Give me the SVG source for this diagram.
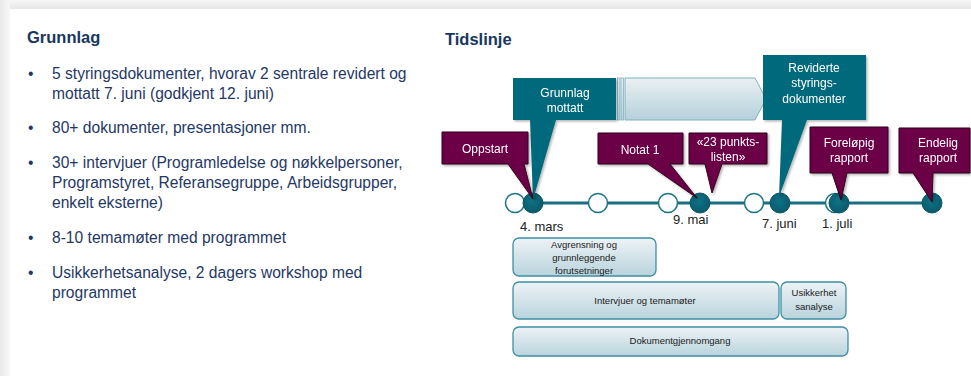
<svg xmlns="http://www.w3.org/2000/svg" width="971" height="376" viewBox="0 0 971 376">
<defs>
<linearGradient id="topg" x1="0" y1="0" x2="0" y2="1"><stop offset="0" stop-color="#f7f7f7"/><stop offset="1" stop-color="#e6e6e6"/></linearGradient>
<linearGradient id="leftg" x1="0" y1="0" x2="1" y2="0"><stop offset="0" stop-color="#e9e9e9"/><stop offset="1" stop-color="#f8f8f8"/></linearGradient>
<linearGradient id="barg" x1="0" y1="0" x2="0" y2="1"><stop offset="0" stop-color="#edf3f6"/><stop offset="1" stop-color="#b9d3dc"/></linearGradient>
<linearGradient id="arrg" x1="0" y1="0" x2="0" y2="1"><stop offset="0" stop-color="#eaf1f4"/><stop offset="1" stop-color="#b5d0da"/></linearGradient>
<radialGradient id="dotg" cx="0.45" cy="0.4" r="0.6"><stop offset="0" stop-color="#0f7286"/><stop offset="1" stop-color="#0a5a6b"/></radialGradient>
<filter id="sh" x="-10%" y="-10%" width="130%" height="130%"><feDropShadow dx="1.5" dy="1.5" stdDeviation="1.2" flood-color="#000" flood-opacity="0.3"/></filter>
</defs>
<style>
.bt{font-family:"Liberation Sans",Arial,sans-serif;font-size:15.6px;fill:#1f3864}
.h{font-family:"Liberation Sans",Arial,sans-serif;font-size:16.5px;font-weight:bold;fill:#17375e}
.cw{font-family:"Liberation Sans",Arial,sans-serif;font-size:12px;fill:#ffffff;text-anchor:middle}
.dt{font-family:"Liberation Sans",Arial,sans-serif;font-size:13px;fill:#222222}
.bx{font-family:"Liberation Sans",Arial,sans-serif;font-size:9.5px;fill:#1a1a1a;text-anchor:middle}
.pur{fill:#6c0046;stroke:#2b0a1c;stroke-width:1}
.tea{fill:#006a7b}
.bar{fill:url(#barg);stroke:#3e8fa2;stroke-width:1.3}
.wc{fill:#ffffff;stroke:#1a7385;stroke-width:1.5}
.tc{fill:url(#dotg);stroke:#0a5566;stroke-width:1}
</style>
<rect width="971" height="376" fill="#ffffff"/>
<rect x="0" y="0" width="971" height="9" fill="url(#topg)"/>
<rect x="0" y="0" width="10" height="376" fill="url(#leftg)"/>

<g id="left-panel">
<text class="h" x="27" y="43">Grunnlag</text>
<g class="bt">
<text x="28" y="79">•</text><text x="52" y="79">5 styringsdokumenter, hvorav 2 sentrale revidert og</text>
<text x="52" y="99">mottatt 7. juni (godkjent 12. juni)</text>
<text x="28" y="133">•</text><text x="52" y="133">80+ dokumenter, presentasjoner mm.</text>
<text x="28" y="168">•</text><text x="52" y="168">30+ intervjuer (Programledelse og nøkkelpersoner,</text>
<text x="52" y="188">Programstyret, Referansegruppe, Arbeidsgrupper,</text>
<text x="52" y="208">enkelt eksterne)</text>
<text x="28" y="243">•</text><text x="52" y="243">8-10 temamøter med programmet</text>
<text x="28" y="278">•</text><text x="52" y="278">Usikkerhetsanalyse, 2 dagers workshop med</text>
<text x="52" y="298">programmet</text>
</g>
</g>

<text class="h" x="445" y="45">Tidslinje</text>

<g id="connectors">
<line x1="515" y1="203" x2="932" y2="203" stroke="#1a6f80" stroke-width="3"/>
</g>

<g id="timeline-dots">
<circle class="wc" cx="515" cy="203" r="9.5"/>
<circle class="tc" cx="533" cy="203" r="10"/>
<circle class="wc" cx="598" cy="203" r="9.5"/>
<circle class="wc" cx="668" cy="203" r="9.5"/>
<circle class="tc" cx="700" cy="203" r="10"/>
<circle class="wc" cx="754" cy="203" r="9.5"/>
<circle class="tc" cx="780" cy="203" r="10"/>
<circle class="wc" cx="835" cy="203" r="9.5"/>
<circle class="tc" cx="839" cy="203" r="10"/>
<circle class="tc" cx="932" cy="203" r="10"/>
</g>

<g id="dates" class="dt">
<text x="520" y="231">4. mars</text>
<text x="673" y="224">9. mai</text>
<text x="762" y="228">7. juni</text>
<text x="822" y="228">1. juli</text>
</g>

<g id="arrow-bar">
<rect x="617.5" y="78" width="2.5" height="42" fill="url(#arrg)" stroke="#7fb0bf" stroke-width="0.8"/>
<rect x="621" y="78" width="2.5" height="42" fill="url(#arrg)" stroke="#7fb0bf" stroke-width="0.8"/>
<path d="M625,78 H755 L766,99 L755,120 H625 Z" fill="url(#arrg)" stroke="#7fb0bf" stroke-width="1"/>
</g>

<g id="grunnlag-mottatt" filter="url(#sh)">
<path class="tea" d="M513,78 H616 V120 H556 L533,200 L530,120 H513 Z"/>
<text class="cw" x="565" y="97">Grunnlag</text>
<text class="cw" x="565" y="112">mottatt</text>
</g>

<g id="reviderte" filter="url(#sh)">
<path class="tea" d="M763,55 H866 V120 H807 L779,197 L782,120 H763 Z"/>
<text class="cw" x="814" y="72">Reviderte</text>
<text class="cw" x="814" y="87">styrings-</text>
<text class="cw" x="814" y="103">dokumenter</text>
</g>

<g id="oppstart" filter="url(#sh)">
<path class="pur" d="M442,132 H528 V164 H524 L533,199 L508,164 H442 Z"/>
<text class="cw" x="485" y="153">Oppstart</text>
</g>

<g id="notat1" filter="url(#sh)">
<path class="pur" d="M598,133 H683 V164 H670 L697,198 L648,164 H598 Z"/>
<text class="cw" x="640" y="154">Notat 1</text>
</g>

<g id="punktslisten" filter="url(#sh)">
<path class="pur" d="M689,133 H767 V164 H722 L712,193 L705,164 H689 Z"/>
<text class="cw" x="728" y="146">«23 punkts-</text>
<text class="cw" x="728" y="161">listen»</text>
</g>

<g id="forelopig" filter="url(#sh)">
<path class="pur" d="M810,127 H888 V173 H847 L841,200 L832,173 H810 Z"/>
<text class="cw" x="849" y="147">Foreløpig</text>
<text class="cw" x="849" y="162">rapport</text>
</g>

<g id="endelig" filter="url(#sh)">
<path class="pur" d="M899,128 H970 V173 H933 L932,202 L913,173 H899 Z"/>
<text class="cw" x="938" y="147">Endelig</text>
<text class="cw" x="938" y="162">rapport</text>
</g>

<g id="avgrensning">
<rect class="bar" x="513" y="238" width="143" height="38" rx="6"/>
<text class="bx" x="584" y="248">Avgrensning og</text>
<text class="bx" x="584" y="261">grunnleggende</text>
<text class="bx" x="584" y="274">forutsetninger</text>
</g>

<g id="intervjuer">
<rect class="bar" x="513" y="282" width="266" height="37" rx="6"/>
<text class="bx" x="645" y="304">Intervjuer og temamøter</text>
</g>

<g id="usikkerhet">
<rect class="bar" x="781" y="282" width="65" height="37" rx="6"/>
<text class="bx" x="814" y="296">Usikkerhet</text>
<text class="bx" x="814" y="310">sanalyse</text>
</g>

<g id="dokumentgjennomgang">
<rect class="bar" x="513" y="327" width="335" height="29" rx="6"/>
<text class="bx" x="680" y="344">Dokumentgjennomgang</text>
</g>
</svg>
